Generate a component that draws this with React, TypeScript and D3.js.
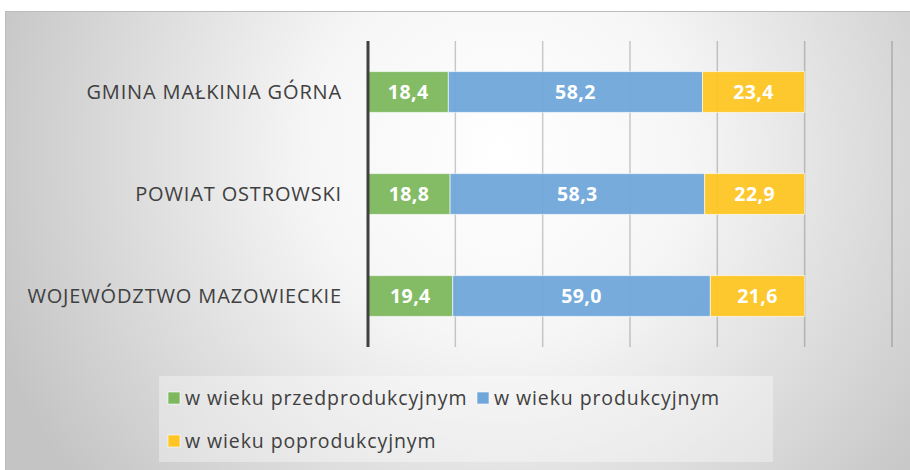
import React from "react";
import * as d3 from "d3";

const categories = ["GMINA MAŁKINIA GÓRNA", "POWIAT OSTROWSKI", "WOJEWÓDZTWO MAZOWIECKIE"];
const seriesNames = ["w wieku przedprodukcyjnym", "w wieku produkcyjnym", "w wieku poprodukcyjnym"];
const przedprodukcyjny = [18.4, 18.8, 19.4];
const produkcyjny = [58.2, 58.3, 59.0];
const poprodukcyjny = [23.4, 22.9, 21.6];
const seriesColors = ["#7db85e", "#6fa7da", "#fec524"];
const xTicks = [0, 20, 40, 60, 80, 100, 120];

const W = 910;
const H = 470;

export default function App() {
  const x = d3.scaleLinear().domain([0, 120]).range([368, 892]);
  const y = d3.scaleBand<string>().domain(categories).range([41, 347]).paddingInner(0.6).paddingOuter(0.3);
  const seriesData = [przedprodukcyjny, produkcyjny, poprodukcyjny];
  const rows = categories.map((c, i) => {
    const vals = seriesData.map((s) => s[i]);
    const stack: { x0: number; x1: number; v: number; k: number }[] = [];
    let acc = 0;
    vals.forEach((v, k) => {
      stack.push({ x0: acc, x1: acc + v, v, k });
      acc += v;
    });
    return { c, stack };
  });
  const fmt = (v: number) => v.toFixed(1).replace(".", ",");
  const font = "'Open Sans', sans-serif";

  const legendItems = [
    { k: 0, x: 168, y: 398 },
    { k: 1, x: 477, y: 398 },
    { k: 2, x: 168, y: 441 },
  ];

  return (
    <svg width={W} height={H} style={{ position: "absolute", left: 0, top: 0 }} fontFamily={font}>
      <defs>
        <radialGradient id="bg" gradientUnits="userSpaceOnUse" cx={500} cy={150} r={540}>
          <stop offset="0" stopColor="#ffffff" />
          <stop offset="0.35" stopColor="#f6f6f6" />
          <stop offset="1" stopColor="#c4c4c4" />
        </radialGradient>
      </defs>
      <rect x={0} y={0} width={W} height={H} fill="#ffffff" />
      <rect x={5.5} y={11.5} width={W} height={H} fill="url(#bg)" stroke="#bcbcbc" strokeWidth={1} />
      {xTicks.slice(1).map((t) => (
        <line key={t} x1={x(t)} x2={x(t)} y1={41} y2={347} stroke="#000" strokeOpacity={0.2} strokeWidth={1.5} />
      ))}
      {rows.map((r) =>
        r.stack.map((s) => (
          <g key={r.c + s.k}>
            <rect
              x={x(s.x0)}
              y={y(r.c)!}
              width={x(s.x1) - x(s.x0)}
              height={y.bandwidth()}
              fill={seriesColors[s.k]}
              fillOpacity={0.95}
              stroke="#ffffff"
              strokeOpacity={0.6}
              strokeWidth={1}
            />
            <text
              x={(x(s.x0) + x(s.x1)) / 2}
              y={y(r.c)! + y.bandwidth() / 2}
              dy="0.36em"
              textAnchor="middle"
              fill="#ffffff"
              fontWeight="bold"
              fontSize={19.5}
              letterSpacing={0.4}
            >
              {fmt(s.v)}
            </text>
          </g>
        ))
      )}
      <line x1={x(0)} x2={x(0)} y1={41} y2={347} stroke="#404040" strokeWidth={3} />
      {categories.map((c) => (
        <text key={c} x={342} y={y(c)! + y.bandwidth() / 2} dy="0.36em" textAnchor="end" fill="#404040" fontSize={20} letterSpacing={0.85}>
          {c}
        </text>
      ))}
      <rect x={159} y={376} width={614} height={86} fill="#ffffff" fillOpacity={0.35} />
      {legendItems.map((l) => (
        <g key={l.k}>
          <rect x={l.x} y={l.y - 6} width={12} height={12} fill={seriesColors[l.k]} stroke="#ffffff" strokeOpacity={0.6} />
          <text x={l.x + 17} y={l.y} dy="0.36em" fill="#404040" fontSize={19.5} letterSpacing={0.9}>
            {seriesNames[l.k]}
          </text>
        </g>
      ))}
    </svg>
  );
}
